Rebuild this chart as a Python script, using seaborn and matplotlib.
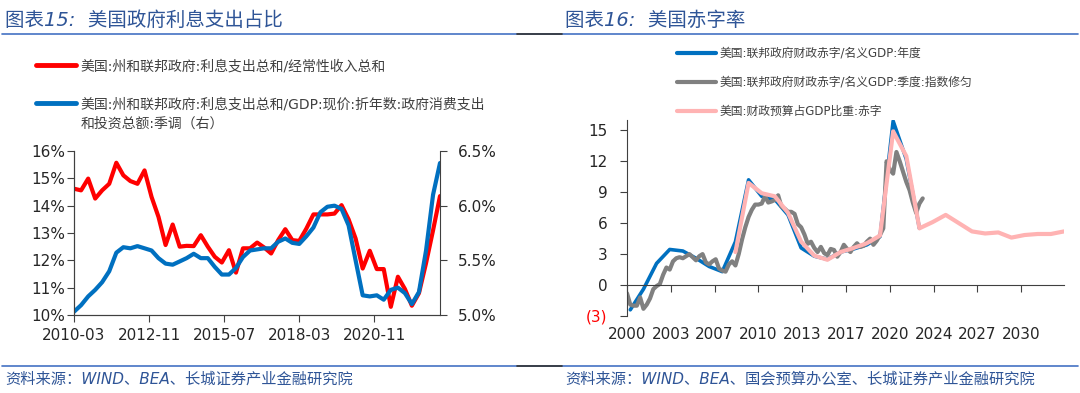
import numpy as np
import pandas as pd
import seaborn as sns
import matplotlib.pyplot as plt
from matplotlib.lines import Line2D

# ---- left chart: quarterly, 2010-03 .. 2023-03 ----
interest_to_revenue = [
    14.62, 14.56, 14.99, 14.26, 14.56, 14.80, 15.57, 15.11, 14.90, 14.80,
    15.29, 14.32, 13.59, 12.56, 13.31, 12.50, 12.53, 12.52, 12.92, 12.50,
    12.13, 11.92, 12.37, 11.55, 12.44, 12.44, 12.65, 12.47, 12.25, 12.74,
    13.14, 12.74, 12.71, 13.16, 13.68, 13.68, 13.68, 13.71, 14.02, 13.50,
    12.80, 11.70, 12.35, 11.68, 11.68, 10.30, 11.40, 10.95, 10.34, 10.80,
    11.90, 13.10, 14.35,
]
interest_to_gdp = [
    5.03, 5.09, 5.17, 5.23, 5.30, 5.40, 5.57, 5.62, 5.61, 5.63,
    5.61, 5.59, 5.52, 5.47, 5.46, 5.49, 5.52, 5.56, 5.52, 5.52,
    5.44, 5.37, 5.37, 5.43, 5.53, 5.59, 5.60, 5.61, 5.61, 5.67,
    5.70, 5.66, 5.65, 5.72, 5.80, 5.94, 5.99, 6.00, 5.97, 5.82,
    5.50, 5.18, 5.17, 5.18, 5.14, 5.23, 5.25, 5.20, 5.10, 5.21,
    5.59, 6.10, 6.39,
]
left_xticks = ["2010-03", "2012-11", "2015-07", "2018-03", "2020-11"]
left_yticks = [10, 11, 12, 13, 14, 15, 16]
left_y2ticks = [5.0, 5.5, 6.0, 6.5]
left_labels = [
    "美国:州和联邦政府:利息支出总和/经常性收入总和",
    "美国:州和联邦政府:利息支出总和/GDP:现价:折年数:政府消费支出",
]
left_label_cont = "和投资总额:季调（右）"

# ---- right chart ----
annual_years = list(range(2000, 2023))
deficit_annual = [
    -2.4, -0.4, 2.1, 3.45, 3.3, 2.6, 1.8, 1.3, 4.2, 10.2,
    8.6, 8.3, 6.8, 3.6, 2.8, 2.5, 3.2, 3.5, 3.9, 4.7,
    15.9, 12.2, 5.5,
]
# quarterly, first point 1999Q4
deficit_quarterly = [
    -0.8, -1.9, -2.0, -2.0, -1.2, -2.3, -1.9, -1.3, -0.4, -0.1,
    0.1, 1.0, 1.7, 1.5, 2.3, 2.6, 2.7, 2.6, 2.8, 3.0,
    2.7, 2.4, 2.8, 3.0, 2.2, 2.0, 2.3, 2.5, 1.6, 1.4,
    1.3, 2.0, 2.3, 1.9, 3.0, 4.4, 5.6, 6.6, 7.3, 7.8,
    7.8, 7.9, 8.6, 8.0, 8.1, 8.25, 8.7, 7.6, 7.4, 7.1,
    7.1, 6.9, 5.9, 5.6, 4.9, 4.0, 4.2, 3.6, 3.2, 3.7,
    3.1, 2.9, 3.5, 3.4, 2.75, 3.2, 3.9, 3.5, 3.2, 3.7,
    4.05, 3.7, 3.8, 4.2, 4.5, 3.9, 4.3, 4.85, 5.5, 12.0,
    11.2, 10.8, 12.9, 12.0, 11.0, 10.0, 9.2, 8.0, 7.0, 7.9,
    8.4,
]
budget_years = list(range(2008, 2034))
budget_deficit = [
    3.2, 9.9, 8.9, 8.6, 7.0, 4.2, 2.85, 2.45, 3.2, 3.6,
    4.05, 4.8, 14.9, 12.5, 5.5, 6.1, 6.8, 6.0, 5.2, 5.0,
    5.1, 4.6, 4.85, 4.95, 4.95, 5.2,
]
right_xticklabels = ["2000", "2003", "2007", "2010", "2013", "2017", "2020", "2024", "2027", "2030"]
right_yticks = [-3, 0, 3, 6, 9, 12, 15]
right_yticklabels = ["(3)", "0", "3", "6", "9", "12", "15"]
right_labels = [
    "美国:联邦政府财政赤字/名义GDP:年度",
    "美国:联邦政府财政赤字/名义GDP:季度:指数修匀",
    "美国:财政预算占GDP比重:赤字",
]

RED = "#FF0000"
BLUE = "#0070C0"
GRAY = "#808080"
PINK = "#FFB3B3"
TITLE_C = "#2F5597"
AXIS_C = "#404040"
TEXT_C = "#404040"

sns.set_style("ticks")
plt.rcParams["font.family"] = ["DejaVu Sans", "Noto Sans CJK SC"]
plt.rcParams["axes.unicode_minus"] = False

fig = plt.figure(figsize=(10.8, 3.93), dpi=100)
W, H = 1080, 393

# ================= left chart =================
df_left = pd.DataFrame({
    "date": pd.date_range("2010-03-01", periods=len(interest_to_revenue), freq="3MS"),
    "rev": interest_to_revenue,
    "gdp": interest_to_gdp,
})

axL = fig.add_axes([74 / W, 1 - 315 / H, 366 / W, 164 / H])
sns.lineplot(data=df_left, x="date", y="rev", ax=axL, color=RED, lw=3)
axL2 = axL.twinx()
sns.lineplot(data=df_left, x="date", y="gdp", ax=axL2, color=BLUE, lw=3)

axL.set_xlim(df_left["date"].iloc[0], df_left["date"].iloc[-1])
axL.set_ylim(10, 16)
axL2.set_ylim(5.0, 6.5)
axL.set_xticks(pd.to_datetime(left_xticks), labels=left_xticks)
axL.set_yticks(left_yticks, labels=[f"{v}%" for v in left_yticks])
axL2.set_yticks(left_y2ticks, labels=[f"{v:.1f}%" for v in left_y2ticks])
for a in (axL, axL2):
    a.set_xlabel("")
    a.set_ylabel("")
    a.spines["top"].set_visible(False)
    for s in a.spines.values():
        s.set_color(AXIS_C)
axL.spines["right"].set_visible(False)
axL.tick_params(axis="x", direction="out", length=5, color=AXIS_C, labelsize=11, pad=4)
axL.tick_params(axis="y", direction="out", length=5, color=AXIS_C, labelsize=11, pad=1.5)
axL2.tick_params(axis="y", direction="out", length=5, color=AXIS_C, labelsize=11, pad=8)

legL = fig.legend(
    [Line2D([], [], color=RED, lw=3.5), Line2D([], [], color=BLUE, lw=3.5)],
    left_labels,
    loc="upper left", bbox_to_anchor=(36 / W, 1 - 59 / H),
    frameon=False, fontsize=10, handlelength=2.9, handletextpad=0.3,
    labelspacing=1.75, borderpad=0, borderaxespad=0, labelcolor=TEXT_C,
)

# ================= right chart =================
q = pd.period_range("1999Q4", periods=len(deficit_quarterly), freq="Q")
df_q = pd.DataFrame({"t": q.year + (q.quarter - 1) / 4, "v": deficit_quarterly})
df_a = pd.DataFrame({"t": annual_years, "v": deficit_annual})
df_b = pd.DataFrame({"t": budget_years, "v": budget_deficit})

axR = fig.add_axes([627 / W, 1 - 316 / H, 437 / W, 196 / H])
sns.lineplot(data=df_a, x="t", y="v", ax=axR, color=BLUE, lw=2.6)
sns.lineplot(data=df_q, x="t", y="v", ax=axR, color=GRAY, lw=3)
sns.lineplot(data=df_b, x="t", y="v", ax=axR, color=PINK, lw=3)

x_start = df_q["t"].iloc[0]
axR.set_xlim(x_start, budget_years[-1])
axR.set_ylim(-3, 16)
xt = x_start + np.arange(len(right_xticklabels)) * 10 / 3
axR.set_xticks(xt)
axR.set_yticks(right_yticks, labels=right_yticklabels)
axR.get_yticklabels()[0].set_color(RED)
axR.set_xlabel("")
axR.set_ylabel("")
axR.spines["top"].set_visible(False)
axR.spines["right"].set_visible(False)
axR.spines["bottom"].set_position(("data", 0))
for s in axR.spines.values():
    s.set_color(AXIS_C)
axR.tick_params(axis="x", direction="out", length=5, color=AXIS_C, labelbottom=False)
axR.tick_params(axis="y", direction="out", length=5, color=AXIS_C, labelsize=11, pad=9)

sec = axR.secondary_xaxis("bottom")
sec.set_xticks(xt, labels=right_xticklabels)
sec.tick_params(length=0, labelsize=11, pad=8)
sec.spines["bottom"].set_visible(False)

fig.legend(
    [Line2D([], [], color=BLUE, lw=3), Line2D([], [], color=GRAY, lw=3),
     Line2D([], [], color=PINK, lw=3)],
    right_labels,
    loc="upper left", bbox_to_anchor=(677 / W, 1 - 47 / H),
    frameon=False, fontsize=8.5, handlelength=3.3, handletextpad=0.3,
    labelspacing=1.35, borderpad=0, borderaxespad=0, labelcolor=TEXT_C,
)

# ================= titles, rules, sources =================
fig.text(5 / W, 1 - 20 / H, "图表15:  美国政府利息支出占比", fontsize=14,
         color=TITLE_C, style="italic", va="center")
fig.text(565 / W, 1 - 20 / H, "图表16:  美国赤字率", fontsize=14,
         color=TITLE_C, style="italic", va="center")
for yy in (1 - 34 / H, 1 - 366 / H):
    fig.add_artist(Line2D([0.002, 0.998], [yy, yy], transform=fig.transFigure,
                          color="#4472C4", lw=1.2))
    fig.add_artist(Line2D([517 / W, 562 / W], [yy, yy], transform=fig.transFigure,
                          color="#333333", lw=1.2))
fig.text(5 / W, 1 - 379 / H, "资料来源：WIND、BEA、长城证券产业金融研究院",
         fontsize=11, color=TITLE_C, style="italic", va="center")
fig.text(565 / W, 1 - 379 / H, "资料来源：WIND、BEA、国会预算办公室、长城证券产业金融研究院",
         fontsize=11, color=TITLE_C, style="italic", va="center")

# second line of the blue legend label, aligned under the first line
fig.canvas.draw()
bb = legL.get_texts()[1].get_window_extent()
fig.text(bb.x0 / W, (bb.y0 + bb.y1) / 2 / H - 19 / H, left_label_cont,
         fontsize=10, color=TEXT_C, va="center")

fig.savefig("out.png", dpi=100)
